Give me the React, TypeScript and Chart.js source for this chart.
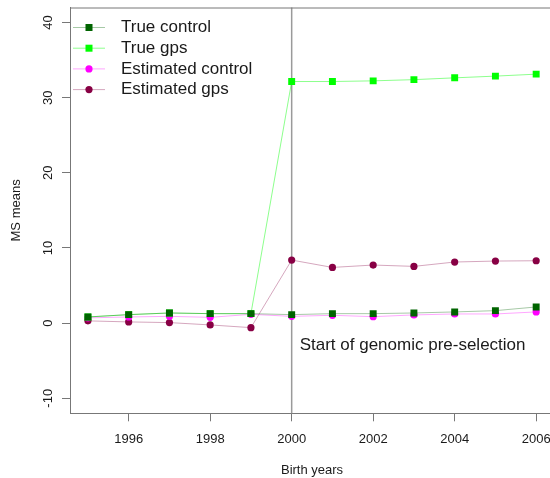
import React, { useEffect, useRef } from "react";
import { Chart, registerables } from "chart.js";

Chart.register(...registerables);

const years = [1995, 1996, 1997, 1998, 1999, 2000, 2001, 2002, 2003, 2004, 2005, 2006];
const trueControl = [0.82, 1.13, 1.35, 1.26, 1.26, 1.13, 1.26, 1.26, 1.35, 1.49, 1.66, 2.15];
const trueGps = [0.82, 1.13, 1.35, 1.26, 1.26, 32.15, 32.15, 32.24, 32.4, 32.64, 32.87, 33.13];
const estControl = [0.7, 0.82, 0.9, 0.77, 1.17, 0.9, 1.04, 0.86, 1.09, 1.22, 1.22, 1.49];
const estGps = [0.3, 0.16, 0.07, -0.24, -0.6, 8.39, 7.41, 7.73, 7.55, 8.13, 8.26, 8.3];
const seriesLabels = ["True control", "True gps", "Estimated control", "Estimated gps"];
const xTicks = [1996, 1998, 2000, 2002, 2004, 2006];
const yTicks = [-10, 0, 10, 20, 30, 40];
const selectionYear = 2000;
const annotationText = "Start of genomic pre-selection";
const xTitle = "Birth years";
const yTitle = "MS means";

const FONT = "'Liberation Sans', Arial, Helvetica, sans-serif";

const toXY = (ys: number[]) => years.map((x, i) => ({ x, y: ys[i] }));

const extrasPlugin = {
  id: "extras",
  beforeDatasetsDraw(chart: any) {
    const { ctx, chartArea } = chart;
    const xs = chart.scales.x;
    const px = xs.getPixelForValue(selectionYear);
    ctx.save();
    ctx.strokeStyle = "#9a9a9a";
    ctx.lineWidth = 1.5;
    ctx.beginPath();
    ctx.moveTo(px, chartArea.top);
    ctx.lineTo(px, chartArea.bottom);
    ctx.stroke();
    ctx.strokeStyle = "#777";
    ctx.lineWidth = 1;
    ctx.beginPath();
    ctx.moveTo(chartArea.left, chartArea.top + 0.5);
    ctx.lineTo(chartArea.right + 0.5, chartArea.top + 0.5);
    ctx.lineTo(chartArea.right + 0.5, chartArea.bottom);
    ctx.stroke();
    ctx.restore();
  },
  afterDraw(chart: any) {
    const { ctx, chartArea } = chart;
    const xs = chart.scales.x;
    const ys = chart.scales.y;
    ctx.save();
    ctx.fillStyle = "#1a1a1a";
    ctx.font = `17px ${FONT}`;
    ctx.textAlign = "left";
    ctx.textBaseline = "middle";
    ctx.fillText(annotationText, xs.getPixelForValue(selectionYear) + 8, ys.getPixelForValue(-3));

    const x0 = chartArea.left + 3;
    chart.data.datasets.forEach((ds: any, i: number) => {
      const y = chartArea.top + 20 + i * 20.7;
      ctx.strokeStyle = ds.borderColor;
      ctx.lineWidth = 1;
      ctx.beginPath();
      ctx.moveTo(x0, y);
      ctx.lineTo(x0 + 32, y);
      ctx.stroke();
      ctx.fillStyle = ds.pointBackgroundColor;
      if (ds.pointStyle === "rect") {
        ctx.fillRect(x0 + 16 - 3.5, y - 3.5, 7, 7);
      } else {
        ctx.beginPath();
        ctx.arc(x0 + 16, y, 3.6, 0, Math.PI * 2);
        ctx.fill();
      }
      ctx.fillStyle = "#1a1a1a";
      ctx.font = `17px ${FONT}`;
      ctx.fillText(ds.label, x0 + 48, y);
    });
    ctx.restore();
  },
};

export default function App() {
  const ref = useRef<HTMLCanvasElement | null>(null);
  useEffect(() => {
    if (!ref.current) return;
    const mk = (label: string, data: number[], color: string, line: string, style: string, r: number) => ({
      label,
      data: toXY(data),
      borderColor: line,
      borderWidth: 1,
      pointBackgroundColor: color,
      pointBorderColor: color,
      pointBorderWidth: 0,
      pointStyle: style,
      pointRadius: r,
      tension: 0,
    });
    const chart = new Chart(ref.current, {
      type: "line",
      data: {
        datasets: [
          mk(seriesLabels[0], trueControl, "#006400", "rgba(0,100,0,0.35)", "rect", 4.9),
          mk(seriesLabels[1], trueGps, "#00ff00", "rgba(0,255,0,0.45)", "rect", 4.9),
          mk(seriesLabels[2], estControl, "#ff00ff", "rgba(255,0,255,0.35)", "circle", 3.6),
          mk(seriesLabels[3], estGps, "#880044", "rgba(136,0,68,0.35)", "circle", 3.6),
        ] as any,
      },
      options: {
        animation: false,
        responsive: false,
        layout: { padding: { top: 7.5, right: 3, left: 0, bottom: 0 } },
        plugins: { legend: { display: false }, tooltip: { enabled: false } },
        scales: {
          x: {
            type: "linear",
            min: 1994.56,
            max: 2006.44,
            afterBuildTicks: (s: any) => {
              s.ticks = xTicks.map((v) => ({ value: v }));
            },
            afterFit: (s: any) => {
              s.height = 478 - 413.3;
              s.paddingLeft = 0;
              s.paddingRight = 0;
            },
            grid: { drawOnChartArea: false, drawTicks: true, tickLength: 8, color: "#777" },
            border: { display: true, color: "#777" },
            ticks: {
              color: "#1a1a1a",
              font: { family: FONT, size: 13 },
              padding: 10,
              maxRotation: 0,
              minRotation: 0,
              callback: (v: any) => String(v),
            },
            title: { display: true, text: xTitle, color: "#1a1a1a", font: { family: FONT, size: 13 }, padding: { top: 0, bottom: 0 } },
          },
          y: {
            type: "linear",
            min: -12,
            max: 42,
            afterBuildTicks: (s: any) => {
              s.ticks = yTicks.map((v) => ({ value: v }));
            },
            afterFit: (s: any) => {
              s.width = 70;
              s.paddingTop = 0;
              s.paddingBottom = 0;
            },
            grid: { drawOnChartArea: false, drawTicks: true, tickLength: 8, color: "#777" },
            border: { display: true, color: "#777" },
            ticks: {
              color: "#1a1a1a",
              font: { family: FONT, size: 13 },
              padding: 4,
              minRotation: 90,
              maxRotation: 90,
              crossAlign: "center",
              callback: (v: any) => String(v),
            },
            title: { display: true, text: yTitle, color: "#1a1a1a", font: { family: FONT, size: 13 }, padding: { top: 9, bottom: 0 } },
          },
        },
      } as any,
      plugins: [extrasPlugin],
    });
    return () => chart.destroy();
  }, []);
  return (
    <div style={{ position: "fixed", left: 0, top: 0, width: 550, height: 478, overflow: "hidden", background: "#fff" }}>
      <canvas ref={ref} width={559} height={478} style={{ display: "block" }} />
    </div>
  );
}
